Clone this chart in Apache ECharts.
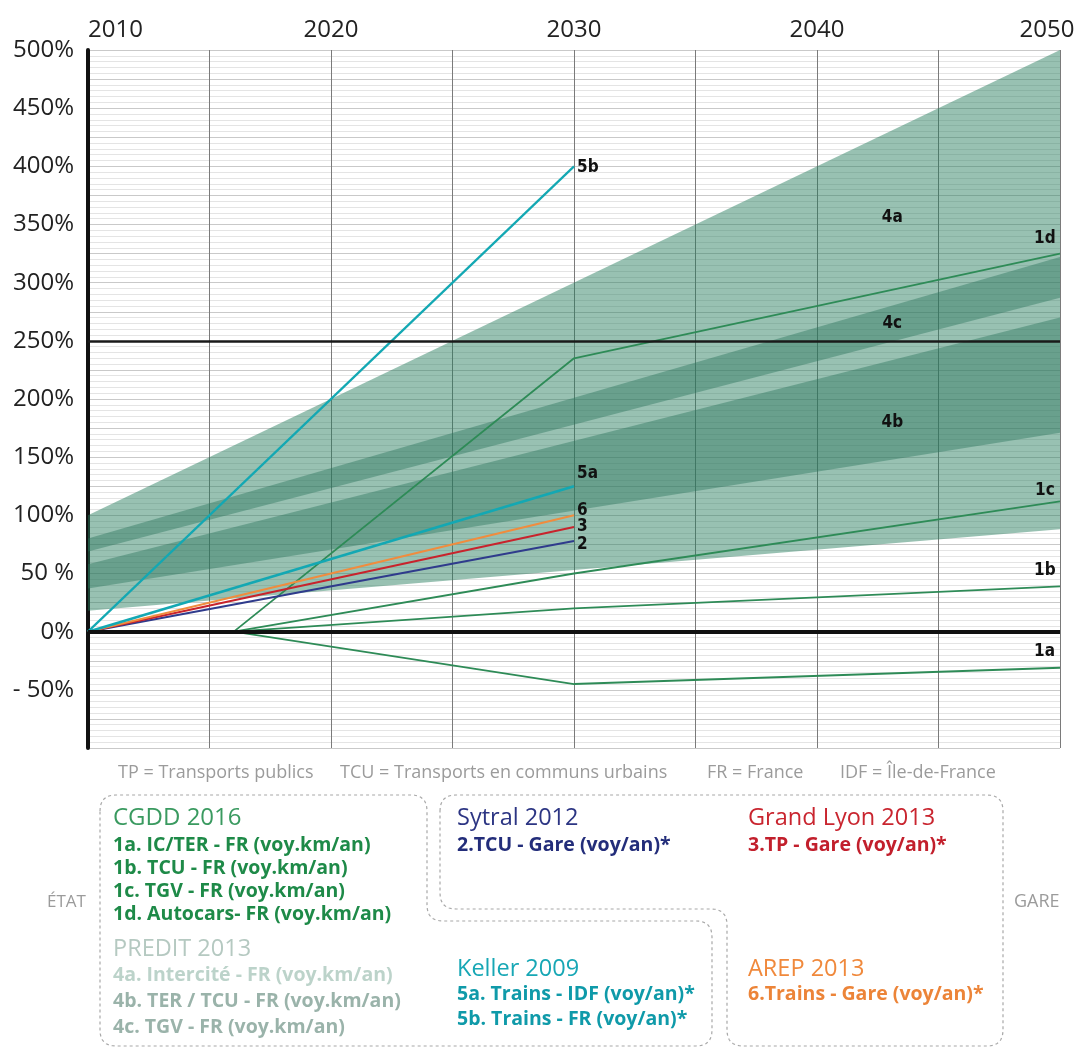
<!DOCTYPE html>
<html>
<head>
<meta charset="utf-8">
<title>Prévisions de fréquentation</title>
<script src="https://cdn.jsdelivr.net/npm/echarts@6/dist/echarts.min.js"></script>
<style>
  html, body { margin: 0; padding: 0; background: #ffffff; overflow: hidden; }
  #chart { width: 1082px; height: 1050px; }
</style>
</head>
<body>
<div id="chart"></div>
<script>
// ---- Axis ticks -------------------------------------------------------------
const yTickValues = [-50, 0, 50, 100, 150, 200, 250, 300, 350, 400, 450, 500];
const yTickText   = ['- 50%', '0%', '50 %', '100%', '150%', '200%', '250%', '300%', '350%', '400%', '450%', '500%'];
const xTickValues = [2010, 2020, 2030, 2040, 2050];

// ---- PREDIT 2013 ranges (growth in %, at 2010 and 2050) ---------------------
const bandYears  = [2010, 2050];
const band4aLow  = [18, 88];
const band4aHigh = [100, 500];
const band4bLow  = [37, 171];
const band4bHigh = [58, 270];
const band4cLow  = [69, 287];
const band4cHigh = [80, 322];
const bandLabelNames  = ['4a', '4c', '4b'];
const bandLabelYears  = [2043.1, 2043.1, 2043.1];
const bandLabelValues = [356, 265, 180];

// ---- CGDD 2016 (from 2016) --------------------------------------------------
const s1a = [[2016, 0], [2030, -45], [2050, -31]];
const s1b = [[2016, 0], [2030, 20], [2050, 39]];
const s1c = [[2016, 0], [2030, 50], [2050, 112]];
const s1d = [[2016, 0], [2030, 235], [2050, 325]];
// ---- Station-level forecasts (from 2010) -------------------------------------
const s2  = [[2010, 0], [2030, 78]];
const s3  = [[2010, 0], [2030, 90]];
const s6  = [[2010, 0], [2030, 100]];
const s5a = [[2010, 0], [2030, 125]];
const s5b = [[2010, 0], [2030, 400]];

const C = {
  green: '#2e8b57', navy: '#2f3b8c', red: '#c8232c', orange: '#f08c3e', teal: '#13a8b3',
  band: 'rgba(40,125,95,0.48)', bandDark: 'rgba(40,115,90,0.42)'
};
const LABEL_FONT = "'Liberation Sans Narrow', 'DejaVu Sans Condensed', sans-serif";
const TEXT_FONT = "'Open Sans', 'Noto Sans', sans-serif";

function bandSeries(name, low, high, color) {
  return {
    type: 'custom', name: name, silent: true, clip: true,
    data: bandYears.map((yr, i) => [yr, low[i], high[i]]),
    renderItem: function (params, api) {
      if (params.dataIndexInside !== 0) return null;
      const n = params.dataInsideLength;
      const top = [], bottom = [];
      for (let i = 0; i < n; i++) {
        top.push(api.coord([api.value(0, i), api.value(2, i)]));
        bottom.unshift(api.coord([api.value(0, i), api.value(1, i)]));
      }
      return { type: 'polygon', shape: { points: top.concat(bottom) }, style: { fill: color, stroke: null } };
    }
  };
}

function lineSeries(name, data, color, width, label, offset) {
  return {
    type: 'line', name: name, data: data, showSymbol: false, symbol: 'none', silent: true,
    lineStyle: { color: color, width: width },
    endLabel: {
      show: true, formatter: label, distance: 3, offset: offset,
      fontFamily: LABEL_FONT, fontWeight: 'bold', fontSize: 17, color: '#111'
    }
  };
}

// Dashed outline with rounded corners for the legend groups
function roundedOutline(pts, r) {
  const out = [];
  const n = pts.length;
  for (let i = 0; i < n; i++) {
    const P = pts[i], A = pts[(i - 1 + n) % n], B = pts[(i + 1) % n];
    const la = Math.hypot(A[0] - P[0], A[1] - P[1]), lb = Math.hypot(B[0] - P[0], B[1] - P[1]);
    const p1 = [P[0] + (A[0] - P[0]) / la * r, P[1] + (A[1] - P[1]) / la * r];
    const p2 = [P[0] + (B[0] - P[0]) / lb * r, P[1] + (B[1] - P[1]) / lb * r];
    for (let k = 0; k <= 8; k++) {
      const t = k / 8, u = 1 - t;
      out.push([u * u * p1[0] + 2 * u * t * P[0] + t * t * p2[0], u * u * p1[1] + 2 * u * t * P[1] + t * t * p2[1]]);
    }
  }
  out.push(out[0]);
  return out;
}

function txt(x, y, text, color, size, weight) {
  return {
    type: 'text', x: x, y: y, silent: true,
    style: {
      text: text, fill: color, fontSize: size, fontWeight: weight || 'normal', fontFamily: TEXT_FONT,
      textVerticalAlign: 'middle', verticalAlign: 'middle'
    }
  };
}

const dashStyle = { stroke: '#a8a8a8', fill: null, lineWidth: 1.2, lineDash: [3, 3] };
const NOTE = '#9b9b9b';
const BOLD = 19.5;
const HEAD = 23.5;

const chart = echarts.init(document.getElementById('chart'), null, { renderer: 'canvas' });
chart.setOption({
  animation: false,
  backgroundColor: '#ffffff',
  grid: { left: 88, right: 22, top: 50, bottom: 302, containLabel: false, outerBoundsMode: 'none' },
  xAxis: {
    type: 'value', position: 'top', min: 2010, max: 2050, interval: 5,
    axisLine: { show: false }, axisTick: { show: false },
    axisLabel: {
      margin: 8, color: '#222', fontSize: 24, fontFamily: TEXT_FONT,
      alignMinLabel: 'left',
      formatter: function (v) {
        if (xTickValues.indexOf(v) < 0) return '';
        return v === 2050 ? String(v) + '{sp|}' : String(v);
      },
      rich: { sp: { width: 26 } }
    },
    splitLine: { show: true, lineStyle: { color: '#7a7a7a', width: 1 } }
  },
  yAxis: {
    type: 'value', min: -100, max: 500, interval: 25,
    axisLine: { show: true, onZero: false, lineStyle: { color: '#111', width: 4 } },
    axisTick: { show: false },
    axisLabel: {
      margin: 14, color: '#222', fontSize: 24, fontFamily: TEXT_FONT,
      formatter: function (v) {
        const i = yTickValues.indexOf(v);
        return i < 0 ? '' : yTickText[i];
      }
    },
    splitLine: { show: true, lineStyle: { color: '#c9c9c9', width: 1 } },
    minorTick: { show: false, splitNumber: 5 },
    minorSplitLine: { show: true, lineStyle: { color: '#e4e4e4', width: 1 } }
  },
  series: [
    bandSeries('4a', band4aLow, band4aHigh, C.band),
    bandSeries('4b', band4bLow, band4bHigh, C.bandDark),
    bandSeries('4c', band4cLow, band4cHigh, C.bandDark),
    {
      // range names written inside the bands
      type: 'custom', name: 'bandLabels', silent: true,
      data: bandLabelNames.map((nm, i) => [bandLabelYears[i], bandLabelValues[i]]),
      renderItem: function (params, api) {
        const p = api.coord([api.value(0), api.value(1)]);
        return {
          type: 'text', x: p[0], y: p[1],
          style: {
            text: bandLabelNames[params.dataIndex], fill: '#111',
            fontFamily: LABEL_FONT, fontWeight: 'bold', fontSize: 17,
            align: 'center', verticalAlign: 'middle', textAlign: 'center', textVerticalAlign: 'middle'
          }
        };
      }
    },
    {
      type: 'line', name: 'reference', data: [], silent: true,
      markLine: {
        silent: true, symbol: ['none', 'none'], label: { show: false },
        data: [
          { yAxis: 0, lineStyle: { color: '#111', width: 4, type: 'solid' } },
          { yAxis: 250, lineStyle: { color: '#1a1a1a', width: 2.5, type: 'solid' } }
        ]
      }
    },
    lineSeries('1a', s1a, C.green, 1.8, '1a', [-29, -16]),
    lineSeries('1b', s1b, C.green, 1.8, '1b', [-29, -16]),
    lineSeries('1c', s1c, C.green, 1.8, '1c', [-28, -11]),
    lineSeries('1d', s1d, C.green, 1.8, '1d', [-29, -15]),
    lineSeries('2', s2, C.navy, 2, '2', [0, 4]),
    lineSeries('3', s3, C.red, 2, '3', [0, 0]),
    lineSeries('6', s6, C.orange, 2, '6', [0, -5]),
    lineSeries('5a', s5a, C.teal, 2.6, '5a', [0, -13]),
    lineSeries('5b', s5b, C.teal, 2.2, '5b', [0, 1])
  ],
  graphic: [
    // abbreviations
    txt(118, 773, 'TP = Transports publics', NOTE, 18),
    txt(340, 773, 'TCU = Transports en communs urbains', NOTE, 18),
    txt(707, 773, 'FR = France', NOTE, 18),
    txt(840, 773, 'IDF = Île-de-France', NOTE, 18),
    // group outlines
    { type: 'polyline', silent: true, shape: { points: roundedOutline([[100, 795], [427, 795], [427, 921], [712, 921], [712, 1046], [100, 1046]], 16) }, style: dashStyle },
    { type: 'polyline', silent: true, shape: { points: roundedOutline([[440, 795], [1003, 795], [1003, 1046], [727, 1046], [727, 909], [440, 909]], 16) }, style: dashStyle },
    txt(47, 902, 'ÉTAT', NOTE, 17),
    txt(1014, 902, 'GARE', NOTE, 18),
    // CGDD 2016
    txt(113, 818, 'CGDD 2016', '#3a9a60', 24),
    txt(113, 845, '1a. IC/TER - FR (voy.km/an)', '#1e8a48', BOLD, 'bold'),
    txt(113, 868, '1b. TCU - FR (voy.km/an)', '#1e8a48', BOLD, 'bold'),
    txt(113, 891, '1c. TGV - FR (voy.km/an)', '#1e8a48', BOLD, 'bold'),
    txt(113, 914, '1d. Autocars- FR (voy.km/an)', '#1e8a48', BOLD, 'bold'),
    // PREDIT 2013
    txt(113, 949, 'PREDIT 2013', '#b5c9c1', HEAD),
    txt(113, 975, '4a. Intercité - FR (voy.km/an)', '#bcd3ca', BOLD, 'bold'),
    txt(113, 1001, '4b. TER / TCU - FR (voy.km/an)', '#9ab3aa', BOLD, 'bold'),
    txt(113, 1027, '4c. TGV - FR (voy.km/an)', '#9ab3aa', BOLD, 'bold'),
    // Sytral 2012
    txt(457, 818, 'Sytral 2012', '#2c3583', HEAD),
    txt(457, 845, '2.TCU - Gare (voy/an)*', '#232d7a', BOLD, 'bold'),
    // Keller 2009
    txt(457, 969, 'Keller 2009', '#17a7b5', HEAD),
    txt(457, 994, '5a. Trains - IDF (voy/an)*', '#0f9aa9', BOLD, 'bold'),
    txt(457, 1019, '5b. Trains - FR (voy/an)*', '#0f9aa9', BOLD, 'bold'),
    // Grand Lyon 2013
    txt(748, 818, 'Grand Lyon 2013', '#c9252f', HEAD),
    txt(748, 845, '3.TP - Gare (voy/an)*', '#c21f2c', BOLD, 'bold'),
    // AREP 2013
    txt(748, 969, 'AREP 2013', '#f0893c', HEAD),
    txt(748, 994, '6.Trains - Gare (voy/an)*', '#ec8438', BOLD, 'bold')
  ]
});
</script>
</body>
</html>
